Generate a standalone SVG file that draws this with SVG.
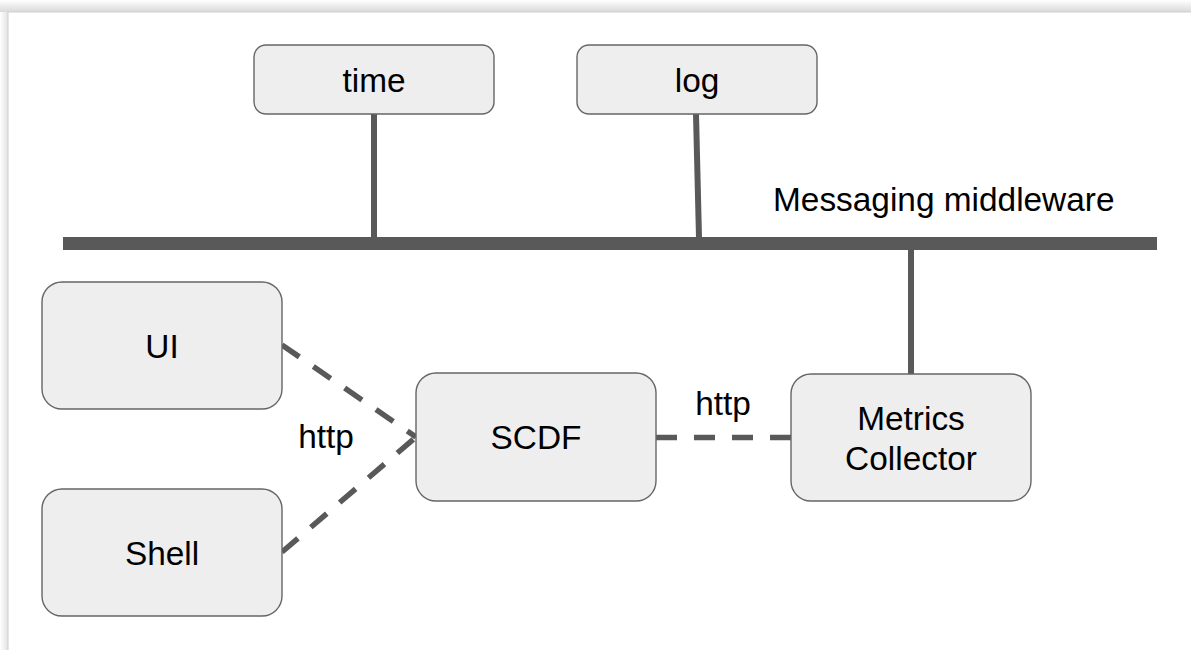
<svg xmlns="http://www.w3.org/2000/svg" width="1191" height="650" viewBox="0 0 1191 650">
  <defs>
    <linearGradient id="shTop" x1="0" y1="0" x2="0" y2="1">
      <stop offset="0" stop-color="#ffffff"/>
      <stop offset="1" stop-color="#d9d9d9"/>
    </linearGradient>
    <linearGradient id="shLeft" x1="0" y1="0" x2="1" y2="0">
      <stop offset="0" stop-color="#ffffff"/>
      <stop offset="1" stop-color="#e2e2e2"/>
    </linearGradient>
  </defs>
  <style>
    .box { fill: #eeeeee; stroke: #666666; stroke-width: 1.4; }
    .lbl { font-family: "Liberation Sans", Arial, sans-serif; font-size: 33.4px; fill: #000000; text-anchor: middle; }
    .free { font-family: "Liberation Sans", Arial, sans-serif; font-size: 33.4px; fill: #000000; }
    .solid { stroke: #595959; stroke-width: 6; fill: none; }
    .dash { stroke: #595959; stroke-width: 5.5; fill: none; stroke-dasharray: 21 17; }
  </style>
  <rect x="0" y="0" width="1191" height="650" fill="#ffffff"/>
  <g id="frame">
    <rect x="0" y="0" width="1191" height="12" fill="url(#shTop)"/>
    <rect x="0" y="12" width="8" height="638" fill="url(#shLeft)"/>
    <rect x="8" y="12" width="1190" height="645" fill="#ffffff" stroke="#cfcfcf" stroke-width="1"/>
  </g>
  <g id="connectors">
    <rect id="bus" x="63" y="237" width="1094" height="13" fill="#595959"/>
    <line class="solid" x1="374" y1="114" x2="374" y2="238"/>
    <line class="solid" x1="696" y1="114" x2="699" y2="238"/>
    <line class="solid" x1="911" y1="249" x2="911" y2="374"/>
    <line class="dash" x1="282" y1="345" x2="416" y2="437"/>
    <line class="dash" x1="282" y1="552" x2="416" y2="437"/>
    <line class="dash" x1="656" y1="437.5" x2="791" y2="437.5"/>
  </g>
  <g id="label-messaging">
    <text class="free" x="773" y="211">Messaging middleware</text>
  </g>
  <g id="label-http-left">
    <text class="lbl" x="326" y="448">http</text>
  </g>
  <g id="label-http-right">
    <text class="lbl" x="723" y="415">http</text>
  </g>
  <g id="node-time">
    <rect class="box" x="254" y="45" width="240" height="69" rx="12"/>
    <text class="lbl" x="374" y="92">time</text>
  </g>
  <g id="node-log">
    <rect class="box" x="577" y="45" width="240" height="69" rx="12"/>
    <text class="lbl" x="697" y="92">log</text>
  </g>
  <g id="node-ui">
    <rect class="box" x="42" y="282" width="240" height="127" rx="20"/>
    <text class="lbl" x="162" y="358">UI</text>
  </g>
  <g id="node-shell">
    <rect class="box" x="42" y="489" width="240" height="127" rx="20"/>
    <text class="lbl" x="162" y="565">Shell</text>
  </g>
  <g id="node-scdf">
    <rect class="box" x="416" y="373" width="240" height="128" rx="20"/>
    <text class="lbl" x="536" y="449">SCDF</text>
  </g>
  <g id="node-metrics">
    <rect class="box" x="791" y="374" width="240" height="127" rx="20"/>
    <text class="lbl" x="911" y="430">Metrics</text>
    <text class="lbl" x="911" y="470">Collector</text>
  </g>
</svg>
